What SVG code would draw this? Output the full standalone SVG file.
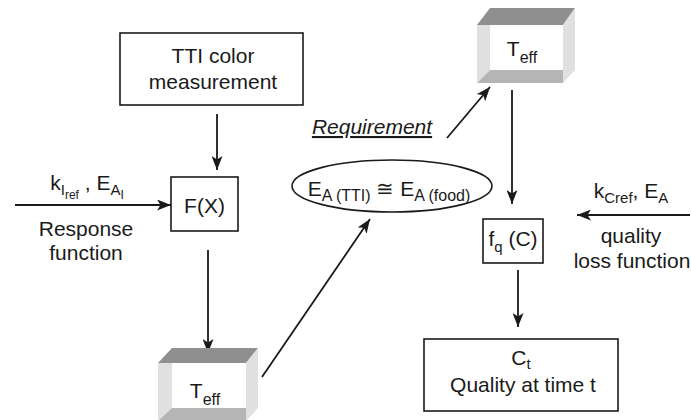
<svg xmlns="http://www.w3.org/2000/svg" width="691" height="420" viewBox="0 0 691 420">
<style>
.t{font-family:"Liberation Sans",Arial,sans-serif;font-size:21px;fill:#1a1a1a}
.box{fill:#fff;stroke:#1a1a1a;stroke-width:1.6}
.ln{stroke:#1a1a1a;stroke-width:1.8;fill:none;marker-end:url(#ah)}
.tf{fill:#8f8f8f}
.sf{fill:#e0e0e0}
.bf{fill:#b5b5b5}
</style>
<defs>
<marker id="ah" markerUnits="userSpaceOnUse" markerWidth="15" markerHeight="11" refX="14" refY="5.5" orient="auto">
<path d="M0,0 L14,5.5 L0,11 L3.5,5.5 z" fill="#1a1a1a"/>
</marker>
</defs>
<rect width="691" height="420" fill="#fff"/>

<g id="connectors">
<line class="ln" x1="217" y1="114" x2="217" y2="170"/>
<line class="ln" x1="15" y1="205" x2="171" y2="205"/>
<line class="ln" x1="208" y1="250" x2="208" y2="353"/>
<line class="ln" x1="262" y1="377" x2="370" y2="219"/>
<line class="ln" x1="447" y1="138" x2="490" y2="87"/>
<line class="ln" x1="512" y1="90" x2="512" y2="204"/>
<line class="ln" x1="690" y1="215" x2="577" y2="215"/>
<line class="ln" x1="518" y1="270" x2="518" y2="327"/>
</g>

<g id="tti">
<rect class="box" x="120" y="33" width="183" height="72"/>
<text class="t" x="213" y="63" text-anchor="middle">TTI color</text>
<text class="t" x="213" y="89" text-anchor="middle">measurement</text>
</g>

<g id="fx">
<rect class="box" x="171" y="177" width="67" height="54"/>
<text class="t" x="204.5" y="213" text-anchor="middle">F(X)</text>
</g>

<g id="input-left">
<text class="t" x="87" y="190" text-anchor="middle">k<tspan dy="5" font-size="15">I</tspan><tspan dy="4" font-size="12">ref</tspan><tspan dy="-9"> , E</tspan><tspan dy="5" font-size="15">A</tspan><tspan dy="4" font-size="12">I</tspan></text>
<text class="t" x="86" y="236" text-anchor="middle">Response</text>
<text class="t" x="86" y="260" text-anchor="middle">function</text>
</g>

<g id="teff-bottom">
<polygon class="tf" points="158,363 172,348 258,348 246,363"/>
<polygon class="sf" points="158,363 172,363 172,408 158,421"/>
<polygon class="sf" points="246,363 258,348 258,408 246,421"/>
<polygon class="bf" points="158,421 172,408 246,408 246,421"/>
<text class="t" x="205" y="398" text-anchor="middle" font-size="22">T<tspan dy="7" font-size="16">eff</tspan></text>
</g>

<g id="requirement">
<text class="t" x="372" y="134" text-anchor="middle" font-style="italic" text-decoration="underline" font-size="20">Requirement</text>
</g>

<g id="ea">
<ellipse cx="392" cy="186" rx="100" ry="26" fill="#fff" stroke="#1a1a1a" stroke-width="1.6"/>
<text class="t" x="389" y="196" text-anchor="middle">E<tspan dy="5" font-size="16">A (TTI)</tspan><tspan dy="-5"> ≅ E</tspan><tspan dy="5" font-size="16">A (food)</tspan></text>
</g>

<g id="teff-top">
<polygon class="tf" points="477,25 490,8 575,8 563,25"/>
<polygon class="sf" points="477,25 490,25 490,70 477,83"/>
<polygon class="sf" points="563,25 575,8 575,70 563,83"/>
<polygon class="bf" points="477,83 490,70 563,70 563,83"/>
<text class="t" x="522" y="56" text-anchor="middle" font-size="22">T<tspan dy="7" font-size="16">eff</tspan></text>
</g>

<g id="fq">
<rect class="box" x="483" y="219" width="60" height="44"/>
<text class="t" x="513" y="246" text-anchor="middle">f<tspan dy="6" font-size="15">q</tspan><tspan dy="-6"> (C)</tspan></text>
</g>

<g id="input-right">
<text class="t" x="631" y="198" text-anchor="middle">k<tspan dy="5" font-size="15">Cref</tspan><tspan dy="-5">, E</tspan><tspan dy="5" font-size="15">A</tspan></text>
<text class="t" x="631" y="243" text-anchor="middle">quality</text>
<text class="t" x="632" y="268" text-anchor="middle">loss function</text>
</g>

<g id="ct">
<rect class="box" x="424" y="339" width="194" height="72"/>
<text class="t" x="521" y="365" text-anchor="middle">C<tspan dy="4" font-size="15">t</tspan></text>
<text class="t" x="523" y="392" text-anchor="middle">Quality at time t</text>
</g>
</svg>
